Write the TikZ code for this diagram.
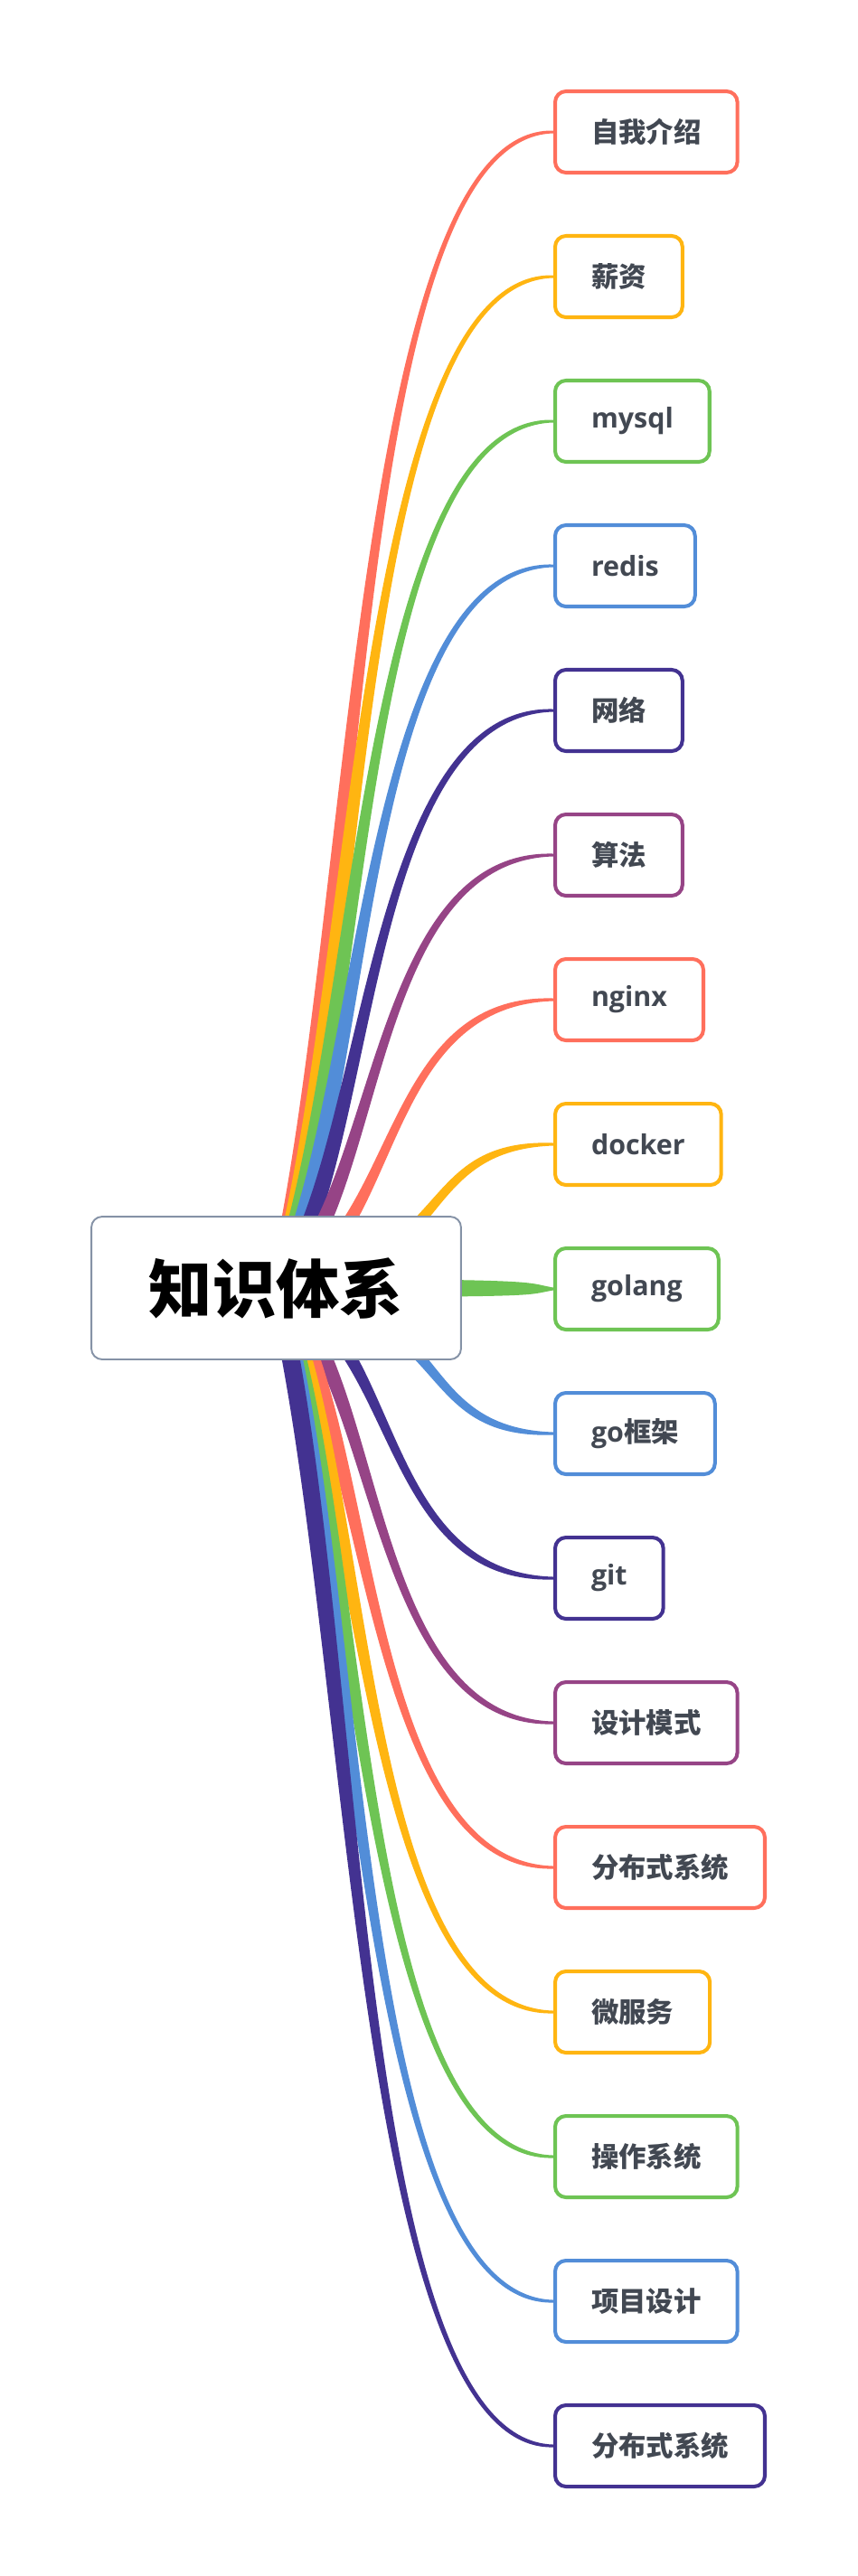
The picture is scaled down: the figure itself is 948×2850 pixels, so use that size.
\documentclass[tikz,border=0pt]{standalone}
\usepackage{fontspec}
\setmainfont{Open Sans}
\newfontfamily\cjkfont{Noto Sans CJK SC}
\usetikzlibrary{calc}
\pgfdeclarelayer{bg}
\pgfsetlayers{bg,main}
\definecolor{cred}{HTML}{FF6F5C}
\definecolor{camber}{HTML}{FFB511}
\definecolor{cgreen}{HTML}{6EC454}
\definecolor{cblue}{HTML}{528DD8}
\definecolor{cindigo}{HTML}{433291}
\definecolor{cpurple}{HTML}{964486}
\definecolor{ctext}{HTML}{424852}
\definecolor{cframe}{HTML}{8592A6}
\newcommand\zh[1]{{\cjkfont #1}}
\tikzset{
	topic/.style={draw=#1, line width=2.3pt, rounded corners=0.24cm, fill=white, text=ctext,
		font=\bfseries\fontsize{17.3}{20}\selectfont, minimum height=1.8cm, inner xsep=0.8cm, anchor=west},
	central/.style={draw=cframe, line width=1.1pt, rounded corners=0.24cm, fill=white,
		font=\bfseries\fontsize{40}{48}\selectfont, minimum width=8.18cm, minimum height=3.16cm}
}

\begin{document}
\begin{tikzpicture}[x=0.02cm, y=-0.02cm]
			%%%%% START %%%%%
			\useasboundingbox (0,0) rectangle (948,2850);
			\begin{pgfonlayer}{bg}
				\fill[white] (0,0) rectangle (948,2850);
			\end{pgfonlayer}
			
			\node[central] (root) at (305.5,1425) {\zh{知识体系}};
			
			\foreach \i/\lab/\col in {0/\zh{自我介绍}/cred, 1/\zh{薪资}/camber, 2/mysql/cgreen,
				3/redis/cblue, 4/\zh{网络}/cindigo, 5/\zh{算法}/cpurple, 6/nginx/cred,
				7/docker/camber, 8/golang/cgreen, 9/go\zh{框架}/cblue, 10/git/cindigo,
				11/\zh{设计模式}/cpurple, 12/\zh{分布式系统}/cred, 13/\zh{微服务}/camber,
				14/\zh{操作系统}/cgreen, 15/\zh{项目设计}/cblue, 16/\zh{分布式系统}/cindigo}{
				\node[topic=\col] (c\i) at (612,{146+160*\i}) {\lab};
				
				\pgfmathsetmacro\dy{146+160*\i-1425}
				\pgfmathsetmacro\nn{max(abs(\dy),1)/1279}
				\pgfmathsetmacro\ca{min(1,0.25+0.05/\nn)*305}
				\pgfmathsetmacro\cb{0.3*sqrt(\nn)*\dy}
				\pgfmathsetmacro\cc{min(0.9,0.25+0.03/\nn)*305-307}
				\pgfmathsetmacro\nx{-10*\cb/veclen(\ca,\cb)}
				\pgfmathsetmacro\ny{10*\ca/veclen(\ca,\cb)}
				
				\begin{pgfonlayer}{bg}
					\fill[\col] ($(root.center)+(\nx,\ny)$) .. controls ($(root.center)+(\ca,\cb)+(\nx,\ny)$) and ($(c\i.west)+(\cc,7)$) .. ($(c\i.west)+(0,1.5)$)
						-- ($(c\i.west)+(0,-1.5)$) .. controls ($(c\i.west)+(\cc,-7)$) and ($(root.center)+(\ca,\cb)-(\nx,\ny)$) .. ($(root.center)-(\nx,\ny)$) -- cycle;
				\end{pgfonlayer}
			}
			
			%%%%% END %%%%%
\end{tikzpicture}
\end{document}
